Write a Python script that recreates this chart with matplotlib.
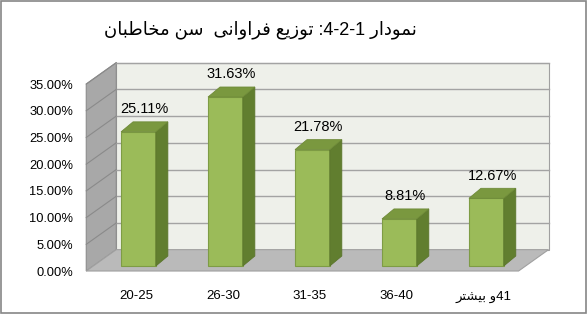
import re
import numpy as np
import matplotlib
matplotlib.use("Agg")
import matplotlib.pyplot as plt
from matplotlib.patches import Polygon, Rectangle

# ── Data ───────────────────────────────────────────────────────────────────
categories = ["20-25", "26-30", "31-35", "36-40", "41و بیشتر"]
shares = [25.11, 31.63, 21.78, 8.81, 12.67]
y_ticks = [0, 5, 10, 15, 20, 25, 30, 35]
title_text = "نمودار 1-2-4: توزیع فراوانی  سن مخاطبان"

# ── Persian shaping (no bidi libs available) ───────────────────────────────
FORMS = {
    "ا": (0xFE8D, 0xFE8E), "د": (0xFEA9, 0xFEAA), "ر": (0xFEAD, 0xFEAE),
    "ز": (0xFEAF, 0xFEB0), "و": (0xFEED, 0xFEEE),
    "ب": (0xFE8F, 0xFE90, 0xFE91, 0xFE92), "ت": (0xFE95, 0xFE96, 0xFE97, 0xFE98),
    "خ": (0xFEA5, 0xFEA6, 0xFEA7, 0xFEA8), "س": (0xFEB1, 0xFEB2, 0xFEB3, 0xFEB4),
    "ش": (0xFEB5, 0xFEB6, 0xFEB7, 0xFEB8), "ط": (0xFEC1, 0xFEC2, 0xFEC3, 0xFEC4),
    "ع": (0xFEC9, 0xFECA, 0xFECB, 0xFECC), "ف": (0xFED1, 0xFED2, 0xFED3, 0xFED4),
    "م": (0xFEE1, 0xFEE2, 0xFEE3, 0xFEE4), "ن": (0xFEE5, 0xFEE6, 0xFEE7, 0xFEE8),
    "ی": (0xFBFC, 0xFBFD, 0xFBFE, 0xFBFF),
}


def rtl(s):
    # plain latin/digit labels stay as they are
    if not any(ch in FORMS for ch in s):
        return s
    out = []
    for i, ch in enumerate(s):
        if ch not in FORMS:
            out.append(ch)
            continue
        prev = s[i - 1] if i > 0 else ""
        nxt = s[i + 1] if i + 1 < len(s) else ""
        jp = prev in FORMS and len(FORMS[prev]) == 4
        jn = len(FORMS[ch]) == 4 and nxt in FORMS
        idx = 3 if (jp and jn) else 1 if jp else 2 if jn else 0
        out.append(chr(FORMS[ch][idx]))
    vis = "".join(out)[::-1]
    return re.sub(r"\d+", lambda m: m.group()[::-1], vis)


FONT = ["Liberation Sans", "DejaVu Sans"]
plt.rcParams["font.family"] = FONT

# ── 3D geometry (data units) ───────────────────────────────────────────────
x0, x1 = -0.52, 4.45          # floor front edge
DX, DY = 0.345, 4.0            # box depth
BX, BY = 0.08, 0.94            # bar front face offset into the box
BDX, BDY = 0.138, 1.87         # bar depth
W = 0.40

fig = plt.figure(figsize=(5.88, 3.14), dpi=100)
ax = fig.add_axes([0.1467, 0.1369, 0.7352, 0.5955])
ax.set_xlim(x0, x1)
ax.set_ylim(0, 35)
for s in ax.spines.values():
    s.set_visible(False)
ax.patch.set_visible(False)

top = y_ticks[-1]
# walls
ax.add_patch(Polygon([(x0 + DX, DY), (x1 + DX, DY), (x1 + DX, top + DY), (x0 + DX, top + DY)],
                     closed=True, fc="#EEF0EA", ec="#A0A0A0", lw=0.8, clip_on=False, zorder=0))
ax.add_patch(Polygon([(x0, 0), (x0 + DX, DY), (x0 + DX, top + DY), (x0, top)],
                     closed=True, fc="#A8A8A8", ec="#8C8C8C", lw=0.8, clip_on=False, zorder=0))
ax.add_patch(Polygon([(x0, 0), (x1, 0), (x1 + DX, DY), (x0 + DX, DY)],
                     closed=True, fc="#BABABA", ec="#A0A0A0", lw=0.8, clip_on=False, zorder=0))
# gridlines
for v in y_ticks[1:]:
    ax.plot([x0 + DX, x1 + DX], [v + DY, v + DY], color="#A3A3A3", lw=1.0, clip_on=False, zorder=1)
    ax.plot([x0, x0 + DX], [v, v + DY], color="#8A8A8A", lw=0.8, clip_on=False, zorder=1)

# bars
xs = np.arange(len(categories))
ax.bar(xs + BX, shares, width=W, bottom=BY, color="#9BBB59", edgecolor="#7E9C45",
       linewidth=0.8, zorder=3, clip_on=False)
for x, v in zip(xs, shares):
    l, r = x + BX - W / 2, x + BX + W / 2
    ax.add_patch(Polygon([(r, BY), (r + BDX, BY + BDY), (r + BDX, v + BY + BDY), (r, v + BY)],
                         closed=True, fc="#617E2F", ec="#5A752B", lw=0.6, zorder=3, clip_on=False))
    ax.add_patch(Polygon([(l, v + BY), (r, v + BY), (r + BDX, v + BY + BDY), (l + BDX, v + BY + BDY)],
                         closed=True, fc="#7A983F", ec="#6E8A38", lw=0.6, zorder=3, clip_on=False))
    ax.annotate(f"{v:.2f}%", (x + BX + BDX / 2, v + BY + BDY), xytext=(0, 4),
                textcoords="offset points", ha="center", va="bottom", fontsize=10.5, zorder=4)

# axes labels
ax.set_yticks(y_ticks)
ax.set_yticklabels([f"{t:.2f}%" for t in y_ticks], fontsize=9.3)
ax.set_xticks(xs + 0.05)
ax.set_xticklabels([rtl(c) for c in categories], fontsize=9.5)
ax.tick_params(axis="y", length=0, pad=9.5)
ax.tick_params(axis="x", length=0, pad=14)

fig.text(0.443, 0.905, rtl(title_text), ha="center", va="center", fontsize=13)

# outer chart border
fig.patches.append(Rectangle((0.002, 0.003), 0.995, 0.993, transform=fig.transFigure,
                             fill=False, ec="#868686", lw=1.2))

fig.savefig("out.png", dpi=100, facecolor="white")
